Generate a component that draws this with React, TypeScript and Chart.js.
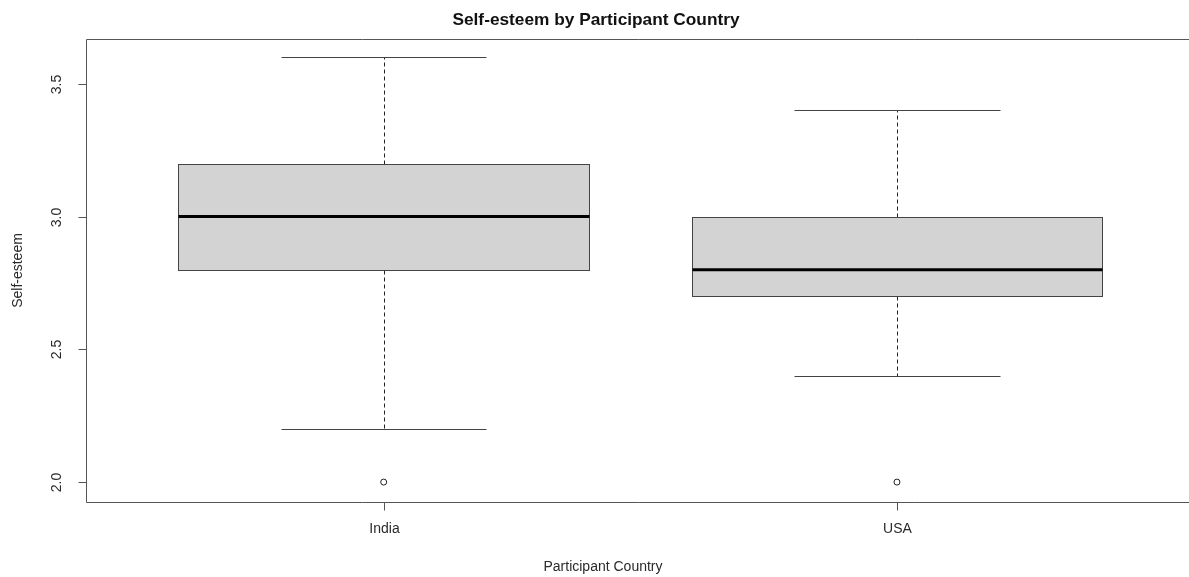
import React, { useEffect, useRef } from "react";
import { Chart, registerables } from "chart.js";

Chart.register(...registerables);

// Groups and their box-and-whisker summaries
const categories = ["India", "USA"];
const lowerWhisker = [2.2, 2.4];
const q1 = [2.8, 2.7];
const median = [3.0, 2.8];
const q3 = [3.2, 3.0];
const upperWhisker = [3.6, 3.4];
const outliers = [[2.0], [2.0]];
const yTicks = [2.0, 2.5, 3.0, 3.5];

const TITLE = "Self-esteem by Participant Country";
const X_TITLE = "Participant Country";
const Y_TITLE = "Self-esteem";
const FONT = "'Liberation Sans', Arial, Helvetica, sans-serif";
const BOX_WIDTH = 0.8;

const boxPlugin = {
  id: "rBoxplot",
  beforeDatasetsDraw(chart: any) {
    const { ctx, scales } = chart;
    const xs = scales.x;
    const ys = scales.y;
    ctx.save();
    categories.forEach((_, i) => {
      const xc = Math.round(xs.getPixelForValue(i + 1)) + 0.5;
      const xl = Math.round(xs.getPixelForValue(i + 1 - BOX_WIDTH / 2)) + 0.5;
      const xr = Math.round(xs.getPixelForValue(i + 1 + BOX_WIDTH / 2)) + 0.5;
      const cl = Math.round(xs.getPixelForValue(i + 1 - BOX_WIDTH / 4)) + 0.5;
      const cr = Math.round(xs.getPixelForValue(i + 1 + BOX_WIDTH / 4)) + 0.5;
      const py = (v: number) => Math.round(ys.getPixelForValue(v)) + 0.5;
      const yLo = py(lowerWhisker[i]);
      const yQ1 = py(q1[i]);
      const yMed = ys.getPixelForValue(median[i]);
      const yQ3 = py(q3[i]);
      const yHi = py(upperWhisker[i]);

      // dashed whiskers
      ctx.strokeStyle = "#222";
      ctx.lineWidth = 1;
      ctx.setLineDash([4, 3]);
      ctx.beginPath();
      ctx.moveTo(xc, yQ3);
      ctx.lineTo(xc, yHi);
      ctx.moveTo(xc, yQ1);
      ctx.lineTo(xc, yLo);
      ctx.stroke();
      ctx.setLineDash([]);

      // staples
      ctx.strokeStyle = "#444";
      ctx.beginPath();
      ctx.moveTo(cl, yHi);
      ctx.lineTo(cr, yHi);
      ctx.moveTo(cl, yLo);
      ctx.lineTo(cr, yLo);
      ctx.stroke();

      // box
      ctx.fillStyle = "#D3D3D3";
      ctx.fillRect(xl, yQ3, xr - xl, yQ1 - yQ3);
      ctx.strokeStyle = "#444";
      ctx.strokeRect(xl, yQ3, xr - xl, yQ1 - yQ3);

      // median
      ctx.strokeStyle = "#000";
      ctx.lineWidth = 3;
      ctx.beginPath();
      ctx.moveTo(xl, yMed);
      ctx.lineTo(xr, yMed);
      ctx.stroke();
    });
    ctx.restore();
  },
  afterDraw(chart: any) {
    const { ctx, scales, chartArea } = chart;
    const xs = scales.x;
    const ys = scales.y;
    ctx.save();
    // frame (its right side lies just past the canvas edge)
    const left = Math.round(chartArea.left) + 0.5;
    const top = Math.round(chartArea.top) + 0.5;
    const bottom = Math.round(chartArea.bottom) + 0.5;
    const right = chart.width + 2;
    ctx.strokeStyle = "#555";
    ctx.lineWidth = 1;
    ctx.beginPath();
    ctx.moveTo(right, top);
    ctx.lineTo(left, top);
    ctx.lineTo(left, bottom);
    ctx.lineTo(right, bottom);
    ctx.stroke();

    // main title
    ctx.fillStyle = "#111";
    ctx.textAlign = "center";
    ctx.textBaseline = "middle";
    ctx.font = `bold 17.3px ${FONT}`;
    ctx.fillText(TITLE, 596, 20);

    ctx.fillStyle = "#2a2a2a";
    ctx.font = `14px ${FONT}`;

    // x axis ticks and labels
    categories.forEach((c, i) => {
      const x = Math.round(xs.getPixelForValue(i + 1)) + 0.5;
      ctx.beginPath();
      ctx.moveTo(x, bottom);
      ctx.lineTo(x, bottom + 8);
      ctx.stroke();
      ctx.fillText(c, x, bottom + 27);
    });
    ctx.fillText(X_TITLE, 603, 567);

    // y axis ticks and rotated labels
    yTicks.forEach((t) => {
      const y = Math.round(ys.getPixelForValue(t)) + 0.5;
      ctx.beginPath();
      ctx.moveTo(left, y);
      ctx.lineTo(left - 8, y);
      ctx.stroke();
      ctx.save();
      ctx.translate(57, y);
      ctx.rotate(-Math.PI / 2);
      ctx.fillText(t.toFixed(1), 0, 0);
      ctx.restore();
    });
    ctx.save();
    ctx.translate(18, (chartArea.top + chartArea.bottom) / 2);
    ctx.rotate(-Math.PI / 2);
    ctx.fillText(Y_TITLE, 0, 0);
    ctx.restore();
    ctx.restore();
  },
};

export default function App() {
  const ref = useRef<HTMLCanvasElement | null>(null);
  useEffect(() => {
    if (!ref.current) return;
    const points: { x: number; y: number }[] = [];
    outliers.forEach((arr, i) => arr.forEach((v) => points.push({ x: i + 1, y: v })));
    const chart = new Chart(ref.current, {
      type: "scatter",
      data: {
        datasets: [
          {
            label: "outliers",
            data: points,
            pointStyle: "circle",
            pointRadius: 3,
            pointBackgroundColor: "#fff",
            pointBorderColor: "#222",
            pointBorderWidth: 1,
            pointHoverRadius: 3,
          },
        ],
      },
      options: {
        responsive: false,
        animation: false,
        events: [],
        layout: { autoPadding: false, padding: { left: 86, right: 0, top: 39, bottom: 75 } },
        plugins: {
          legend: { display: false },
          tooltip: { enabled: false },
          title: { display: false },
        },
        scales: {
          x: { type: "linear", min: 0.42, max: 2.569, display: false },
          y: { type: "linear", min: 1.925, max: 3.669, display: false },
        },
      },
      plugins: [boxPlugin],
    });
    return () => chart.destroy();
  }, []);
  return (
    <div style={{ position: "fixed", left: 0, top: 0, width: 1189, height: 577, background: "#fff" }}>
      <canvas ref={ref} width={1189} height={577} />
    </div>
  );
}
